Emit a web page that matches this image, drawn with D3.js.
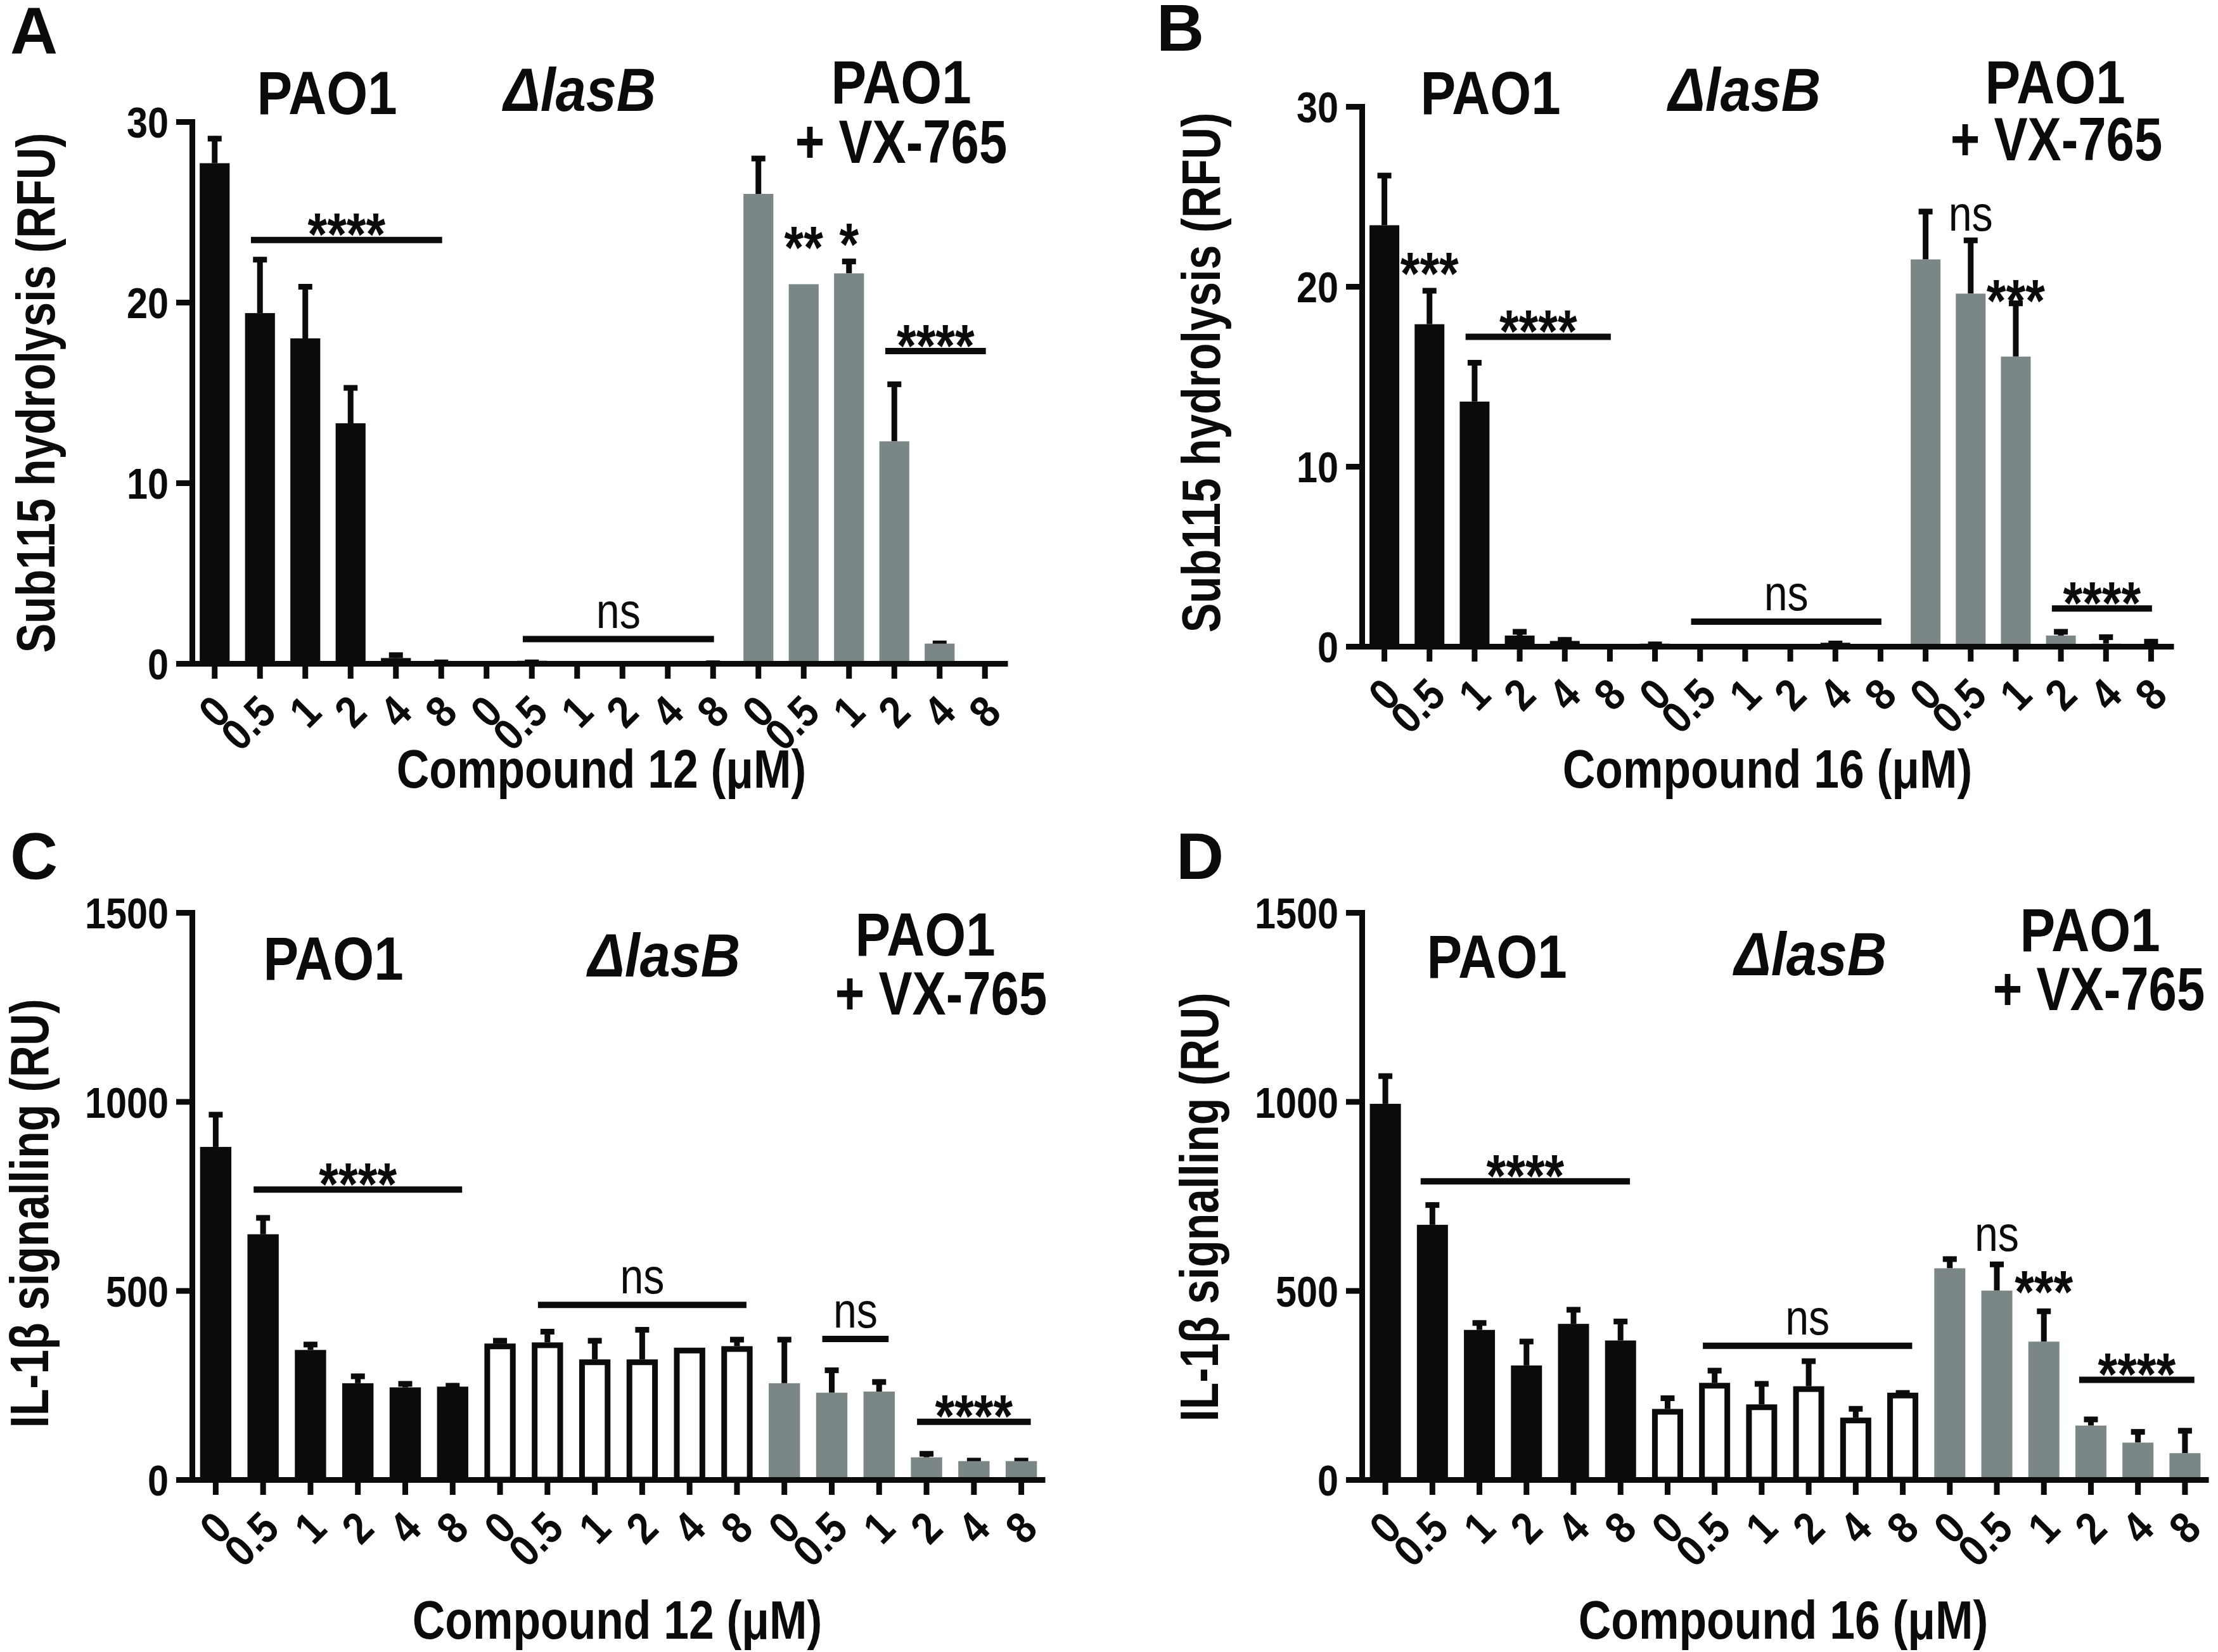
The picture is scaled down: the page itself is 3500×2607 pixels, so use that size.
<!DOCTYPE html>
<html><head><meta charset="utf-8">
<script src="https://cdn.jsdelivr.net/npm/d3@7"></script>
<style>body{margin:0;background:#fff} svg{display:block}</style>
</head><body>
<svg id="chart" width="3500" height="2607"></svg>
<script>
// ---------- data ----------
const doses = ["0","0.5","1","2","4","8"];
const strains = ["PAO1","ΔlasB","PAO1 + VX-765"];
const yTicksSub = [0,10,20,30];
const yTicksIL = [0,500,1000,1500];

// Panel A : Sub115 hydrolysis, compound 12
const aPAO1 = [27.7,19.4,18.0,13.3,0.3,0.1];
const aPAO1Err = [1.5,3.1,3.0,2.1,0.3,0.1];
const aLasB = [0.05,0.15,0.1,0.1,0.1,0.1];
const aLasBErr = [0,0.05,0,0,0,0.05];
const aVX = [26.0,21.0,21.6,12.3,1.1,0.0];
const aVXErr = [2.1,0,0.8,3.3,0.15,0];
// Panel B : Sub115 hydrolysis, compound 16
const bPAO1 = [23.4,17.9,13.6,0.6,0.3,0.05];
const bPAO1Err = [2.9,2.0,2.3,0.35,0.2,0];
const bLasB = [0.15,0.1,0.1,0.05,0.2,0.1];
const bLasBErr = [0.1,0,0,0,0.1,0];
const bVX = [21.5,19.6,16.1,0.6,0.15,0.1];
const bVXErr = [2.8,3.1,3.1,0.35,0.5,0.3];
// Panel C : IL-1b signalling, compound 12
const cPAO1 = [880,649,343,255,244,246];
const cPAO1Err = [92,50,21,25,16,9];
const cLasB = [360,363,318,318,349,353];
const cLasBErr = [14,35,56,85,0,24];
const cVX = [255,230,233,59,49,49];
const cVXErr = [122,66,32,16,8,8];
// Panel D : IL-1b signalling, compound 16
const dPAO1 = [994,674,396,302,412,368];
const dPAO1Err = [80,59,25,70,44,57];
const dLasB = [187,256,199,247,164,230];
const dLasBErr = [35,39,61,73,30,6];
const dVX = [559,500,365,143,98,70];
const dVXErr = [31,76,87,23,35,66];

// significance: [fromBar, toBar, yValue, label]  /  [bar, yValue(centre), label]
const sigLinesA = [[1,5,23.45,"****"],[7,11,1.35,"ns"],[15,17,17.3,"****"]];
const sigMarksA = [[13,23.8,"**"],[14,24.0,"*"]];
const sigLinesB = [[2,5,17.2,"****"],[7,11,1.37,"ns"],[15,17,2.1,"****"]];
const sigMarksB = [[1,21.5,"***"],[13,23.8,"ns"],[14,20.0,"***"]];
const sigLinesC = [[1,5,767,"****"],[7,11,462,"ns"],[13,14,372,"ns"],[15,17,153,"****"]];
const sigMarksC = [];
const sigLinesD = [[1,5,789,"****"],[7,11,354,"ns"],[15,17,264,"****"]];
const sigMarksD = [[13,639,"ns"],[14,534,"***"]];

// ---------- style / layout ----------
const FONT = "'Liberation Sans',Arial,Helvetica,sans-serif";
const BLACK = "#0b0b0b", GREY = "#7b8686";
const SW = 9;
const STAR = 95;

const panels = [
 {letter:"A", lx:16, ly:84, x0:303, x1:1590, yTop:192, yBot:1047, ymax:30, ticks:yTicksSub,
  means:[aPAO1,aLasB,aVX], errs:[aPAO1Err,aLasBErr,aVXErr], styles:["black","black","grey"],
  lines:sigLinesA, marks:sigMarksA, padS:0.2, padE:0.02,
  ytitle:"Sub115 hydrolysis (RFU)", ytx:86, yty:620,
  xtitle:"Compound 12 (μM)", xtx:949, xty:1243,
  g:[[516,180],[915,175],[1422,163],[1422,257]]},
 {letter:"B", lx:1825, ly:80, x0:2149, x1:3430, yTop:168, yBot:1020, ymax:30, ticks:yTicksSub,
  means:[bPAO1,bLasB,bVX], errs:[bPAO1Err,bLasBErr,bVXErr], styles:["black","black","grey"],
  lines:sigLinesB, marks:sigMarksB, padS:0.2, padE:0.02,
  ytitle:"Sub115 hydrolysis (RFU)", ytx:1925, yty:588,
  xtitle:"Compound 16 (μM)", xtx:2789, xty:1243,
  g:[[2352,180],[2753,175],[3243,163],[3245,253]]},
 {letter:"C", lx:16, ly:1387, x0:303, x1:1649, yTop:1440, yBot:2335, ymax:1500, ticks:yTicksIL,
  means:[cPAO1,cLasB,cVX], errs:[cPAO1Err,cLasBErr,cVXErr], styles:["black","white","grey"],
  lines:sigLinesC, marks:sigMarksC, padS:0.2, padE:0.2,
  ytitle:"IL-1β signalling (RU)", ytx:76, yty:1915,
  xtitle:"Compound 12 (μM)", xtx:974, xty:2586,
  g:[[526,1546],[1048,1541],[1460,1508],[1485,1601]]},
 {letter:"D", lx:1856, ly:1387, x0:2149, x1:3485, yTop:1440, yBot:2335, ymax:1500, ticks:yTicksIL,
  means:[dPAO1,dLasB,dVX], errs:[dPAO1Err,dLasBErr,dVXErr], styles:["black","white","grey"],
  lines:sigLinesD, marks:sigMarksD, padS:0.25, padE:0.2,
  ytitle:"IL-1β signalling (RU)", ytx:1922, yty:1905,
  xtitle:"Compound 16 (μM)", xtx:2814, xty:2586,
  g:[[2362,1543],[2857,1539],[3298,1501],[3312,1594]]}
];

const svg = d3.select("#chart");
svg.append("rect").attr("width",3500).attr("height",2607).attr("fill","#fff");

function drawPanel(p){
  const g = svg.append("g");
  const x = d3.scaleBand().domain(d3.range(18)).range([p.x0,p.x1]).padding(0);
  const y = d3.scaleLinear().domain([0,p.ymax]).range([p.yBot,p.yTop]);
  const bw = x.bandwidth()*0.66;
  const cx = i => x(i)+x.bandwidth()/2;

  const rows = [];
  p.means.forEach((arr,si)=>arr.forEach((v,di)=>rows.push({i:si*6+di,v,e:p.errs[si][di],style:p.styles[si]})));

  // error bars (behind bars)
  const eb = rows.filter(d=>d.e>0);
  g.selectAll("line.stem").data(eb).join("line")
    .attr("x1",d=>cx(d.i)).attr("x2",d=>cx(d.i))
    .attr("y1",d=>y(d.v)).attr("y2",d=>y(d.v+d.e))
    .attr("stroke",BLACK).attr("stroke-width",SW);
  g.selectAll("line.cap").data(eb).join("line")
    .attr("x1",d=>cx(d.i)-11).attr("x2",d=>cx(d.i)+11)
    .attr("y1",d=>y(d.v+d.e)+4).attr("y2",d=>y(d.v+d.e)+4)
    .attr("stroke",BLACK).attr("stroke-width",SW);

  // bars
  g.selectAll("rect.bar").data(rows).join("rect")
    .attr("x",d=>cx(d.i)-bw/2+(d.style==="white"?SW/2:0))
    .attr("width",d=>bw-(d.style==="white"?SW:0))
    .attr("y",d=>y(d.v)+(d.style==="white"?SW/2:0))
    .attr("height",d=>Math.max(0,y(0)-y(d.v)-(d.style==="white"?SW/2:0)))
    .attr("fill",d=>d.style==="black"?BLACK:d.style==="grey"?GREY:"#fff")
    .attr("stroke",d=>d.style==="white"?BLACK:"none")
    .attr("stroke-width",SW);

  // y axis
  const ya = g.append("g").attr("transform",`translate(${p.x0},0)`)
    .call(d3.axisLeft(y).tickValues(p.ticks).tickFormat(d3.format("d")).tickSize(25).tickSizeOuter(0).tickPadding(12));
  ya.attr("font-size",null).attr("font-family",null);
  ya.select(".domain").attr("stroke",BLACK).attr("stroke-width",SW).attr("stroke-linecap","square");
  ya.selectAll(".tick line").attr("stroke",BLACK).attr("stroke-width",SW);
  ya.selectAll(".tick text").attr("font-family",FONT).attr("font-weight","bold")
    .attr("font-size",69).attr("fill",BLACK).attr("dy","0.36em").attr("data-k",0.86);

  // x axis
  const xa = g.append("g").attr("transform",`translate(0,${p.yBot})`)
    .call(d3.axisBottom(x).tickFormat(i=>doses[i%6]).tickSize(24).tickSizeOuter(0));
  xa.attr("font-size",null).attr("font-family",null);
  xa.select(".domain").attr("stroke",BLACK).attr("stroke-width",SW);
  xa.selectAll(".tick line").attr("stroke",BLACK).attr("stroke-width",SW);
  xa.selectAll(".tick text").attr("font-family",FONT).attr("font-weight","bold")
    .attr("font-size",70).attr("fill",BLACK)
    .attr("x",0).attr("y",0).attr("dy","0.36em").attr("text-anchor","end")
    .attr("transform","translate(11,63) rotate(-45)").attr("data-k",0.88);

  // significance lines
  p.lines.forEach(([a,b,v,lab])=>{
    const xs = cx(a)-p.padS*x.bandwidth(), xe = cx(b)+p.padE*x.bandwidth();
    const ly = y(v);
    g.append("line").attr("x1",xs).attr("x2",xe).attr("y1",ly).attr("y2",ly)
      .attr("stroke",BLACK).attr("stroke-width",10);
    const t = g.append("text").attr("x",(xs+xe)/2).attr("text-anchor","middle")
      .attr("font-family",FONT).attr("fill",BLACK).text(lab);
    if(lab==="ns") t.attr("y",ly-18).attr("font-size",78).attr("data-k",0.85);
    else t.attr("y",ly-31+0.575*STAR).attr("font-size",STAR).attr("font-weight","bold").attr("data-k",0.83);
  });
  p.marks.forEach(([i,v,lab])=>{
    const t = g.append("text").attr("x",cx(i)).attr("text-anchor","middle")
      .attr("font-family",FONT).attr("fill",BLACK).text(lab);
    if(lab==="ns") t.attr("y",y(v)+0.26*78).attr("font-size",78).attr("data-k",0.85);
    else t.attr("y",y(v)+0.575*STAR).attr("font-size",STAR).attr("font-weight","bold").attr("data-k",0.83);
  });

  // group labels
  const gl = [strains[0],strains[1],"PAO1","+ VX-765"];
  const gk = [0.87,0.9,0.87,0.83];
  gl.forEach((s,k)=>{
    g.append("text").attr("x",p.g[k][0]).attr("y",p.g[k][1]).attr("text-anchor","middle")
      .attr("font-family",FONT).attr("font-weight","bold").attr("font-size",96)
      .attr("font-style",k===1?"italic":"normal").attr("fill",BLACK)
      .attr("data-k",gk[k]).text(s);
  });

  // axis titles
  g.append("text").attr("transform",`translate(${p.ytx},${p.yty}) rotate(-90)`)
    .attr("text-anchor","middle").attr("font-family",FONT).attr("font-weight","bold")
    .attr("font-size",86).attr("fill",BLACK).attr("data-k",0.81).text(p.ytitle);
  g.append("text").attr("x",p.xtx).attr("y",p.xty).attr("text-anchor","middle")
    .attr("font-family",FONT).attr("font-weight","bold").attr("font-size",86)
    .attr("fill",BLACK).attr("data-k",0.83).text(p.xtitle);

  // panel letter
  g.append("text").attr("x",p.lx).attr("y",p.ly).attr("font-family",FONT)
    .attr("font-weight","bold").attr("font-size",104).attr("fill",BLACK).text(p.letter);
}
panels.forEach(drawPanel);

// condensed typeface emulation: compress text horizontally
svg.selectAll("text[data-k]").each(function(){
  const k = +this.getAttribute("data-k");
  const w = this.getComputedTextLength();
  d3.select(this).attr("textLength",(w*k).toFixed(1)).attr("lengthAdjust","spacingAndGlyphs");
});
</script>
</body></html>
